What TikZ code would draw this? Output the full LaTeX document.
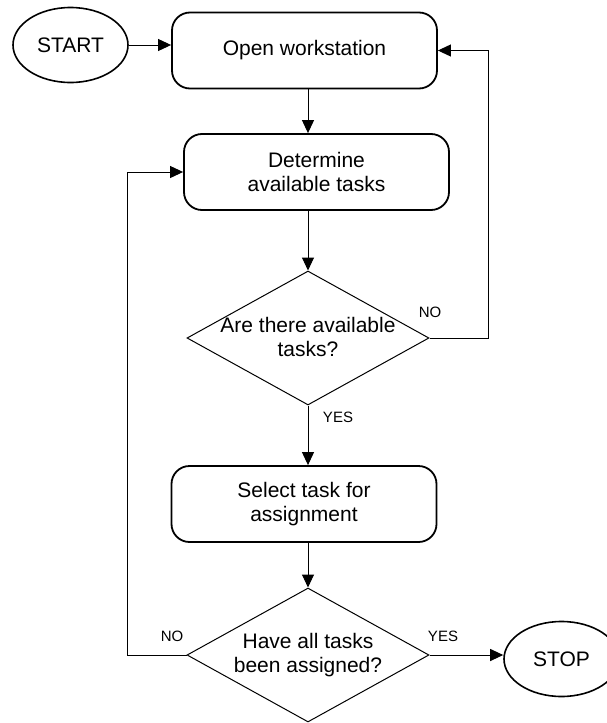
\documentclass[tikz,border=0pt]{standalone}
\usepackage{fontspec}
\setmainfont{Liberation Sans}
\usetikzlibrary{shapes.geometric,arrows.meta}
\begin{document}
\begin{tikzpicture}[x=1pt,y=-1pt,
  every node/.style={font=\fontsize{21}{24}\selectfont},
  process/.style={draw, rectangle, rounded corners=18pt, line width=1.8pt,
    minimum width=265pt, minimum height=76pt, align=center, inner sep=0pt},
  terminal/.style={draw, ellipse, line width=1.6pt,
    minimum width=115pt, minimum height=75pt, inner sep=0pt},
  decision/.style={draw, diamond, line width=1pt,
    minimum width=242pt, minimum height=134pt, inner sep=0pt},
  dtext/.style={align=center, inner sep=0pt},
  flow/.style={line width=1pt, -{Triangle[length=13pt,width=12pt]}},
  branch/.style={font=\fontsize{15}{18}\selectfont, inner sep=0pt}]

\useasboundingbox (0,0) rectangle (607,723);
\clip (0,0) rectangle (607,723);

% blocks
\node[terminal] (start) at (70.5,45) {START};
\node[process]  (open)  at (304.5,50.5) {Open workstation};
\node[process]  (det)   at (316.5,172) {Determine\\available tasks};
\node[decision] (dia1)  at (308,338) {};
\node[dtext]    (dia1t) at (308,337) {Are there available\\tasks?};
\node[process]  (sel)   at (304,504) {Select task for\\assignment};
\node[decision] (dia2)  at (308,655) {};
\node[dtext]    (dia2t) at (308,655) {Have all tasks\\been assigned?};
\node[terminal] (stop)  at (561.5,659) {STOP};

% bend points of the loop-back lines
\coordinate (noR) at (488,338);
\coordinate (noL) at (127,655);

% main flow
\draw[flow] (start.east) -- (start.east -| open.west);
\draw[flow] (dia1.north |- open.south) -- (dia1.north |- det.north);
\draw[flow] (dia1.north |- det.south) -- (dia1.north);
\draw[flow] (dia1.south) -- (dia1.south |- sel.north);
\draw[flow] (dia2.north |- sel.south) -- (dia2.north);
\draw[flow] (dia2.east) -- (dia2.east -| stop.west);

% loops back
\draw[flow] (dia1.east) -- (noR) |- (open.east);
\draw[flow] (dia2.west) -- (noL) |- (det.west);

% branch labels
\node[branch] (no1)  at (430,312) {NO};
\node[branch] (yes1) at (338,417) {YES};
\node[branch] (no2)  at (172,636) {NO};
\node[branch] (yes2) at (443,636) {YES};
\end{tikzpicture}
\end{document}
